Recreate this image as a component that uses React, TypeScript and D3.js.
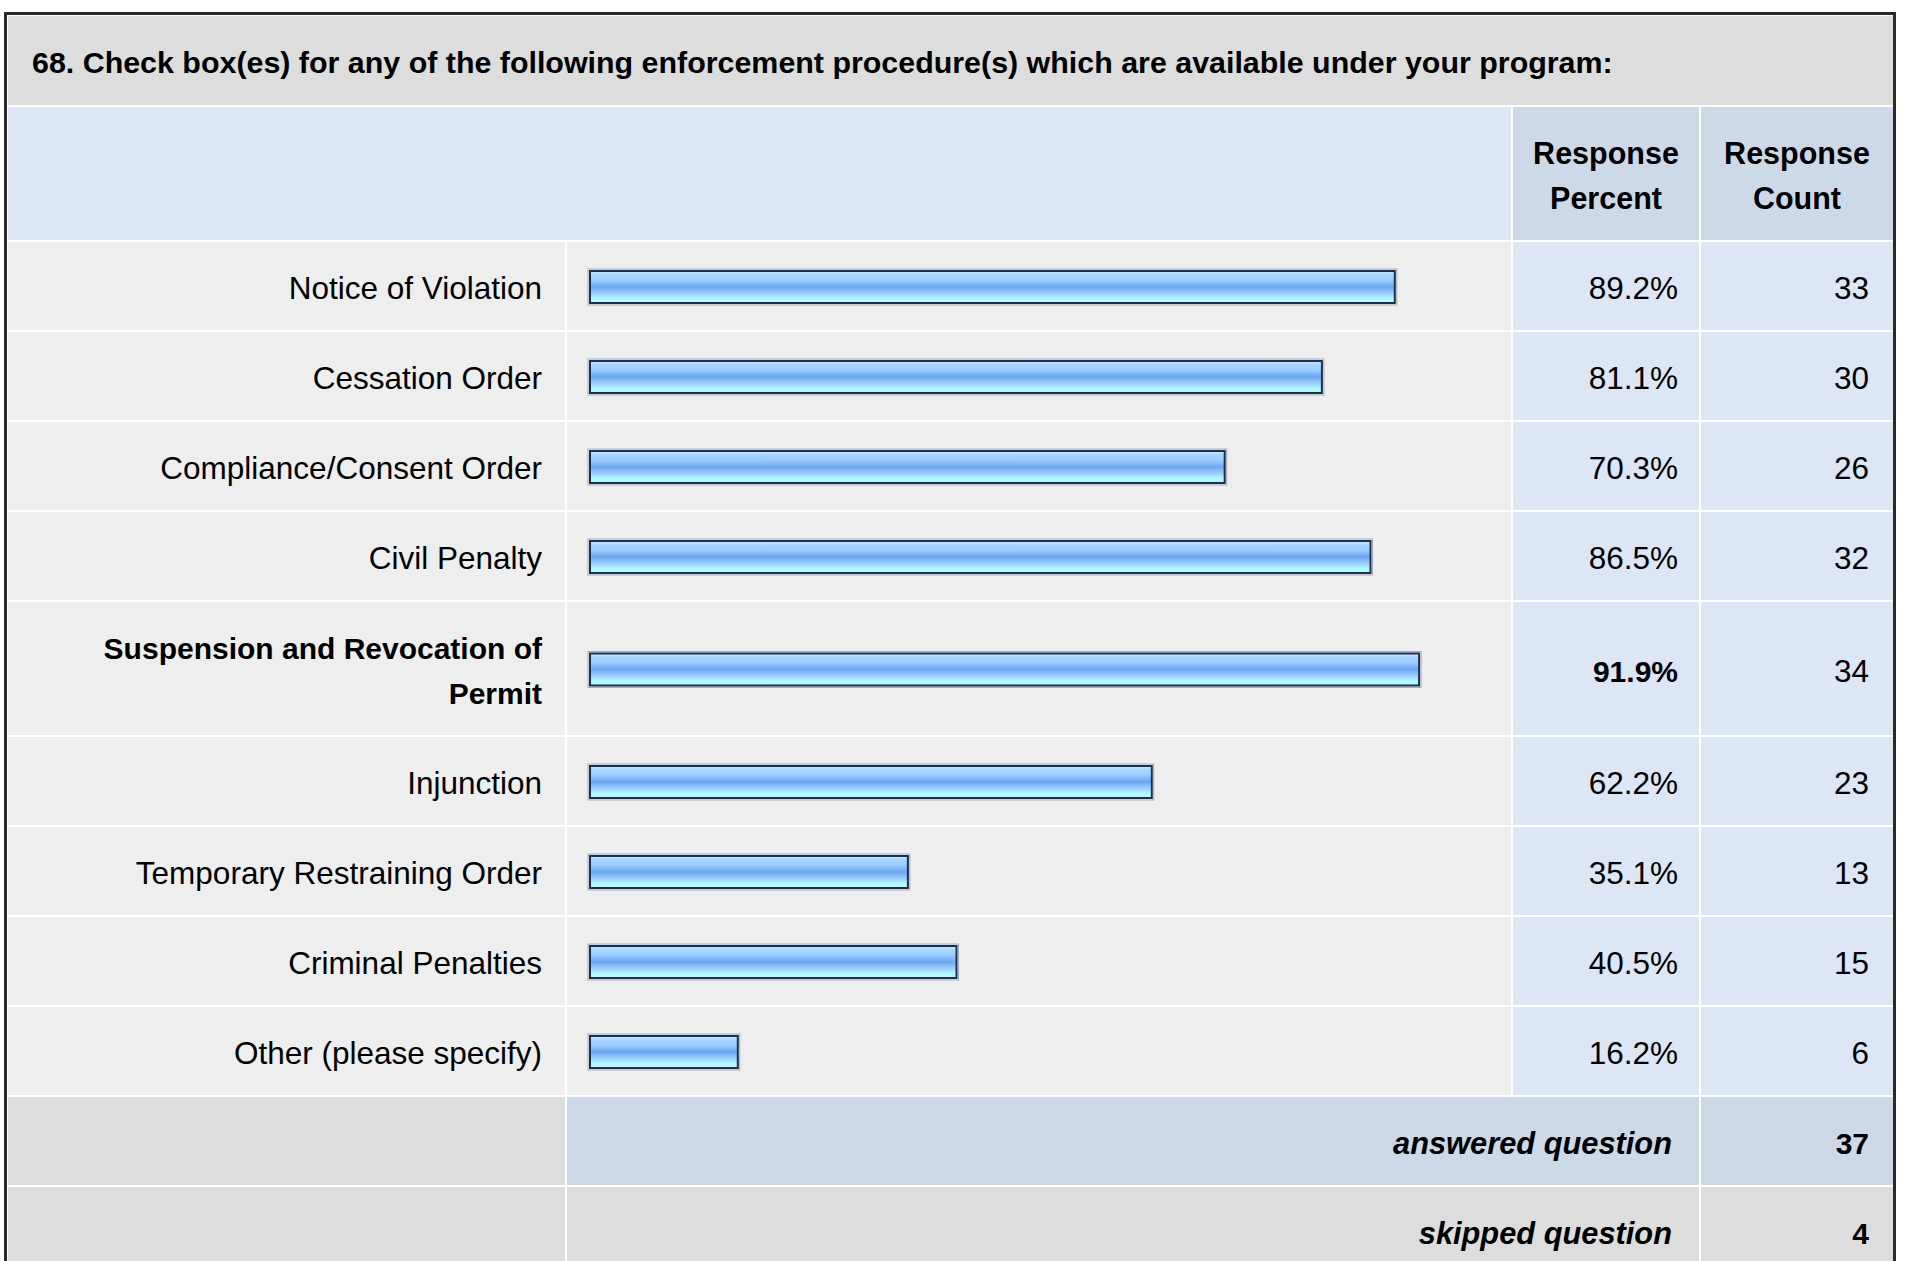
import * as d3 from 'd3'
import React from 'react'

const title =
    '68. Check box(es) for any of the following enforcement procedure(s) which are available under your program:'
const categories = [
    'Notice of Violation',
    'Cessation Order',
    'Compliance/Consent Order',
    'Civil Penalty',
    'Suspension and Revocation of Permit',
    'Injunction',
    'Temporary Restraining Order',
    'Criminal Penalties',
    'Other (please specify)',
]
const percents = [89.2, 81.1, 70.3, 86.5, 91.9, 62.2, 35.1, 40.5, 16.2]
const counts = [33, 30, 26, 32, 34, 23, 13, 15, 6]
const headerLabels = ['Response Percent', 'Response Count']
const summaryLabels = ['answered question', 'skipped question']
const summaryValues = [37, 4]

const W = 1907
const H = 1261
const FAMILY = "'Liberation Sans', Arial, Helvetica, sans-serif"
const FS = 31.5 // regular text
const FSB = 30 // bold text
const LINE = 45
const BASE = 13 // baseline offset from the middle of a line

// column edges: label | bar | percent | count
const cols = [7, 566, 1512, 1700, 1894]
const titleTop = 15
const headerTop = 106
const headerBottom = 241
const barLeft = 589

const measureCtx = document.createElement('canvas').getContext('2d') as CanvasRenderingContext2D
const wrap = (text: string, bold: boolean, maxWidth: number): string[] => {
    measureCtx.font = bold ? `bold ${FSB}px ${FAMILY}` : `${FS}px ${FAMILY}`
    const lines: string[] = []
    let cur = ''
    text.split(' ').forEach((w) => {
        const next = cur ? `${cur} ${w}` : w
        if (cur && measureCtx.measureText(next).width > maxWidth) {
            lines.push(cur)
            cur = w
        } else cur = next
    })
    if (cur) lines.push(cur)
    return lines
}

const Cell = ({ x0, x1, y0, y1, fill }: { x0: number; x1: number; y0: number; y1: number; fill: string }) => (
    <rect x={x0 + 1} y={y0 + 1} width={x1 - x0 - 2} height={y1 - y0 - 2} fill={fill} />
)

const Lines = (props: {
    lines: string[]
    x: number
    cy: number
    anchor: string
    bold?: boolean
    italic?: boolean
    size?: number
}) => {
    const { lines, x, cy, anchor } = props
    const first = cy - ((lines.length - 1) * LINE) / 2 + BASE
    return (
        <text
            x={x}
            textAnchor={anchor}
            fontSize={props.size || (props.bold ? FSB : FS)}
            fontWeight={props.bold ? 'bold' : 'normal'}
            fontStyle={props.italic ? 'italic' : 'normal'}
            fill="#000"
        >
            {lines.map((l, i) => (
                <tspan key={i} x={x} y={first + i * LINE}>
                    {l}
                </tspan>
            ))}
        </text>
    )
}

const App = () => {
    const maxPct = d3.max(percents) as number
    const bold = percents.map((p) => p === maxPct)
    const labelLines = categories.map((c, i) => wrap(c, bold[i], 500))
    const heights = labelLines.map((l) => l.length * LINE + LINE)
    const tops = [headerBottom, ...d3.cumsum(heights).map((h) => headerBottom + h)]
    const last = tops[tops.length - 1]
    const summaryTops = [last, last + 2 * LINE, last + 4 * LINE]

    const x = d3.scaleLinear().domain([0, 100]).range([593, 1493])
    const barH = 34

    const headerLines = headerLabels.map((h) => wrap(h, true, 160))

    return (
        <svg
            width={W}
            height={H}
            style={{ position: 'absolute', left: 0, top: 0, background: '#fff' }}
            fontFamily={FAMILY}
        >
            <defs>
                <linearGradient id="barFill" x1="0" y1="0" x2="0" y2="1">
                    <stop offset="0" stopColor="#cfe8ff" />
                    <stop offset="0.12" stopColor="#a9d5ff" />
                    <stop offset="0.28" stopColor="#9dcdff" />
                    <stop offset="0.4" stopColor="#82b8f7" />
                    <stop offset="0.5" stopColor="#6da5f0" />
                    <stop offset="0.6" stopColor="#86bcf8" />
                    <stop offset="0.72" stopColor="#a0d0ff" />
                    <stop offset="0.84" stopColor="#b0f4ff" />
                    <stop offset="1" stopColor="#b3ffff" />
                </linearGradient>
            </defs>
            <rect width={W} height={H} fill="#fff" />

            {/* title band */}
            <Cell x0={cols[0]} x1={cols[4]} y0={titleTop} y1={headerTop} fill="#dddddd" />
            <text x={32} y={73} fontSize={30.4} fontWeight="bold">
                {title}
            </text>

            {/* header row */}
            <Cell x0={cols[0]} x1={cols[2]} y0={headerTop} y1={headerBottom} fill="#dce6f4" />
            {headerLines.map((l, i) => (
                <g key={i}>
                    <Cell x0={cols[i + 2]} x1={cols[i + 3]} y0={headerTop} y1={headerBottom} fill="#cdd9e6" />
                    <Lines
                        lines={l}
                        x={(cols[i + 2] + cols[i + 3]) / 2}
                        cy={(headerTop + headerBottom) / 2}
                        anchor="middle"
                        bold
                        size={30.5}
                    />
                </g>
            ))}

            {/* answer rows */}
            {categories.map((c, i) => {
                const y0 = tops[i]
                const y1 = tops[i + 1]
                const cy = (y0 + y1) / 2
                const x1 = x(percents[i])
                return (
                    <g key={c}>
                        <Cell x0={cols[0]} x1={cols[1]} y0={y0} y1={y1} fill="#eeeeee" />
                        <Cell x0={cols[1]} x1={cols[2]} y0={y0} y1={y1} fill="#eeeeee" />
                        <Cell x0={cols[2]} x1={cols[3]} y0={y0} y1={y1} fill="#dce6f4" />
                        <Cell x0={cols[3]} x1={cols[4]} y0={y0} y1={y1} fill="#dce6f4" />
                        <Lines lines={labelLines[i]} x={cols[1] - 24} cy={cy} anchor="end" bold={bold[i]} />
                        <rect
                            x={barLeft - 1}
                            y={cy + 1 - barH / 2 - 1}
                            width={x1 - barLeft + 2}
                            height={barH + 2}
                            fill="none"
                            stroke="#a3abba"
                            strokeWidth={1}
                        />
                        <rect
                            x={barLeft + 1}
                            y={cy + 1 - barH / 2 + 1}
                            width={x1 - barLeft - 2}
                            height={barH - 2}
                            fill="url(#barFill)"
                            stroke="#1b2f4e"
                            strokeWidth={2}
                        />
                        <Lines
                            lines={[`${percents[i].toFixed(1)}%`]}
                            x={cols[3] - 22}
                            cy={cy}
                            anchor="end"
                            bold={bold[i]}
                        />
                        <Lines lines={[`${counts[i]}`]} x={cols[4] - 25} cy={cy} anchor="end" />
                    </g>
                )
            })}

            {/* summary rows */}
            {summaryLabels.map((s, i) => {
                const y0 = summaryTops[i]
                const y1 = summaryTops[i + 1]
                const cy = (y0 + y1) / 2
                const fill = i === 0 ? '#cdd9e6' : '#dddddd'
                return (
                    <g key={s}>
                        <Cell x0={cols[0]} x1={cols[1]} y0={y0} y1={y1} fill="#dddddd" />
                        <Cell x0={cols[1]} x1={cols[3]} y0={y0} y1={y1} fill={fill} />
                        <Cell x0={cols[3]} x1={cols[4]} y0={y0} y1={y1} fill={fill} />
                        <Lines lines={[s]} x={cols[3] - 28} cy={cy} anchor="end" bold italic size={30.8} />
                        <Lines lines={[`${summaryValues[i]}`]} x={cols[4] - 25} cy={cy} anchor="end" bold />
                    </g>
                )
            })}

            {/* outer frame */}
            <rect x={5.5} y={13.5} width={1889} height={1400} fill="none" stroke="#2a2a2a" strokeWidth={3} />
        </svg>
    )
}

export default App
